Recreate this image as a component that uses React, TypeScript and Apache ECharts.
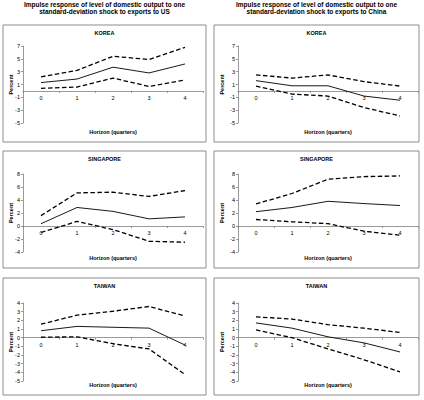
import { useEffect, useRef } from "react";
import * as echarts from "echarts";

const horizons = ["0", "1", "2", "3", "4"];

// exports to US
const koreaUsUpper = [2.2, 3.2, 5.4, 4.9, 6.8];
const koreaUsMid = [1.3, 1.85, 3.7, 2.8, 4.2];
const koreaUsLower = [0.4, 0.6, 2.0, 0.7, 1.7];
const singUsUpper = [1.6, 5.1, 5.2, 4.55, 5.45];
const singUsMid = [0.35, 2.85, 2.25, 1.1, 1.4];
const singUsLower = [-1.0, 0.7, -0.55, -2.35, -2.5];
const taiUsUpper = [1.55, 2.6, 3.05, 3.6, 2.5];
const taiUsMid = [0.8, 1.3, 1.2, 1.1, -0.85];
const taiUsLower = [0.05, 0.1, -0.7, -1.3, -4.25];

// exports to China
const koreaCnUpper = [2.5, 2.0, 2.5, 1.45, 0.75];
const koreaCnMid = [1.6, 0.8, 0.8, -0.8, -1.45];
const koreaCnLower = [0.75, -0.5, -0.8, -2.6, -3.9];
const singCnUpper = [3.4, 5.0, 7.2, 7.6, 7.7];
const singCnMid = [2.2, 2.85, 3.8, 3.45, 3.15];
const singCnLower = [1.0, 0.65, 0.35, -0.8, -1.4];
const taiCnUpper = [2.4, 2.15, 1.5, 1.1, 0.6];
const taiCnMid = [1.7, 1.1, 0.1, -0.6, -1.65];
const taiCnLower = [0.9, 0.0, -1.3, -2.55, -3.95];

// y range: [min, max, interval]
const koreaRange = [-5, 7, 2];
const singRange = [-4, 8, 2];
const taiRange = [-5, 4, 1];

const countries = ["KOREA", "SINGAPORE", "TAIWAN"];
const colTitles = [
    ["Impulse response of level of domestic output to one", "standard-deviation shock to exports to US"],
    ["Impulse response of level of domestic output to one", "standard-deviation shock to exports to China"],
];

const FONT = "'Liberation Sans', Arial, sans-serif";

export default function App() {
    const chartRef = useRef<HTMLDivElement>(null);

    useEffect(() => {
        if (!chartRef.current) return;
        const myChart = echarts.init(chartRef.current, null, { renderer: "svg" });

        const panels = [
            { col: 0, row: 0, range: koreaRange, lines: [koreaUsUpper, koreaUsMid, koreaUsLower] },
            { col: 1, row: 0, range: koreaRange, lines: [koreaCnUpper, koreaCnMid, koreaCnLower] },
            { col: 0, row: 1, range: singRange, lines: [singUsUpper, singUsMid, singUsLower] },
            { col: 1, row: 1, range: singRange, lines: [singCnUpper, singCnMid, singCnLower] },
            { col: 0, row: 2, range: taiRange, lines: [taiUsUpper, taiUsMid, taiUsLower] },
            { col: 1, row: 2, range: taiRange, lines: [taiCnUpper, taiCnMid, taiCnLower] },
        ];

        const colX = [3, 214]; // box left
        const boxW = [203, 205];
        const rowY = [25, 151, 278]; // box top
        const boxH = 117;
        const gridLeft = [23, 238];
        const gridTop = [46, 174, 303];
        const gridH = [77, 78, 78];

        const grid: any[] = [];
        const xAxis: any[] = [];
        const yAxis: any[] = [];
        const series: any[] = [];
        const graphic: any[] = [];

        colTitles.forEach((lines, c) => {
            lines.forEach((t, i) => {
                graphic.push({
                    type: "text",
                    x: colX[c] + boxW[c] / 2,
                    y: 4.5 + i * 7,
                    style: {
                        text: t,
                        font: `bold 6.5px ${FONT}`,
                        fill: "#000",
                        textAlign: "center",
                        textVerticalAlign: "middle",
                    },
                });
            });
        });

        panels.forEach((p, i) => {
            const { col, row } = p;
            const [min, max, step] = p.range;
            // x axis sits on the zero line, labels included
            const zeroOffset = -gridH[row] * (0 - min) / (max - min);
            grid.push({
                left: gridLeft[col],
                top: gridTop[row],
                width: 180,
                height: gridH[row],
            });
            xAxis.push({
                type: "category",
                gridIndex: i,
                data: horizons,
                boundaryGap: true,
                offset: zeroOffset,
                axisLine: { onZero: false, lineStyle: { color: "#808080", width: 0.8 } },
                axisTick: { show: true, length: 2, lineStyle: { color: "#808080", width: 0.8 } },
                axisLabel: { fontSize: 5.5, fontFamily: FONT, color: "#000", margin: 4, interval: 0 },
                splitLine: { show: false },
            });
            yAxis.push({
                type: "value",
                gridIndex: i,
                min,
                max,
                interval: step,
                axisLine: { show: true, lineStyle: { color: "#808080", width: 0.8 } },
                axisTick: { show: true, length: 2, lineStyle: { color: "#808080", width: 0.8 } },
                axisLabel: { fontSize: 5.5, fontFamily: FONT, color: "#000", margin: 3 },
                splitLine: { show: false },
            });
            p.lines.forEach((d, k) => {
                series.push({
                    type: "line",
                    xAxisIndex: i,
                    yAxisIndex: i,
                    data: d,
                    symbol: "none",
                    silent: true,
                    z: 3,
                    lineStyle: {
                        color: "#000",
                        width: k === 1 ? 0.9 : 1.3,
                        type: k === 1 ? "solid" : [4.5, 2.5],
                    },
                });
            });

            const bx = colX[col];
            const by = rowY[row];
            graphic.push({
                type: "rect",
                shape: { x: bx, y: by, width: boxW[col], height: boxH },
                style: { fill: "none", stroke: "#8c8c8c", lineWidth: 1 },
                silent: true,
            });
            graphic.push({
                type: "text",
                x: bx + boxW[col] / 2,
                y: by + 8,
                style: {
                    text: countries[row],
                    font: `bold 5.5px ${FONT}`,
                    fill: "#000",
                    textAlign: "center",
                    textVerticalAlign: "middle",
                },
            });
            graphic.push({
                type: "text",
                x: gridLeft[col] + 90,
                y: by + boxH - 10,
                style: {
                    text: "Horizon (quarters)",
                    font: `bold 5.5px ${FONT}`,
                    fill: "#000",
                    textAlign: "center",
                    textVerticalAlign: "middle",
                },
            });
            graphic.push({
                type: "text",
                x: bx + 8,
                y: gridTop[row] + gridH[row] / 2,
                rotation: Math.PI / 2,
                style: {
                    text: "Percent",
                    font: `bold 5.5px ${FONT}`,
                    fill: "#000",
                    textAlign: "center",
                    textVerticalAlign: "middle",
                },
            });
        });

        myChart.setOption({
            animation: false,
            backgroundColor: "#fff",
            grid,
            xAxis,
            yAxis,
            series,
            graphic,
        });

        return () => {
            myChart.dispose();
        };
    }, []);

    return (
        <div style={{ position: "fixed", left: 0, top: 0, width: 424, height: 400, background: "#fff" }}>
            <div ref={chartRef} style={{ width: 424, height: 400 }} />
        </div>
    );
}
